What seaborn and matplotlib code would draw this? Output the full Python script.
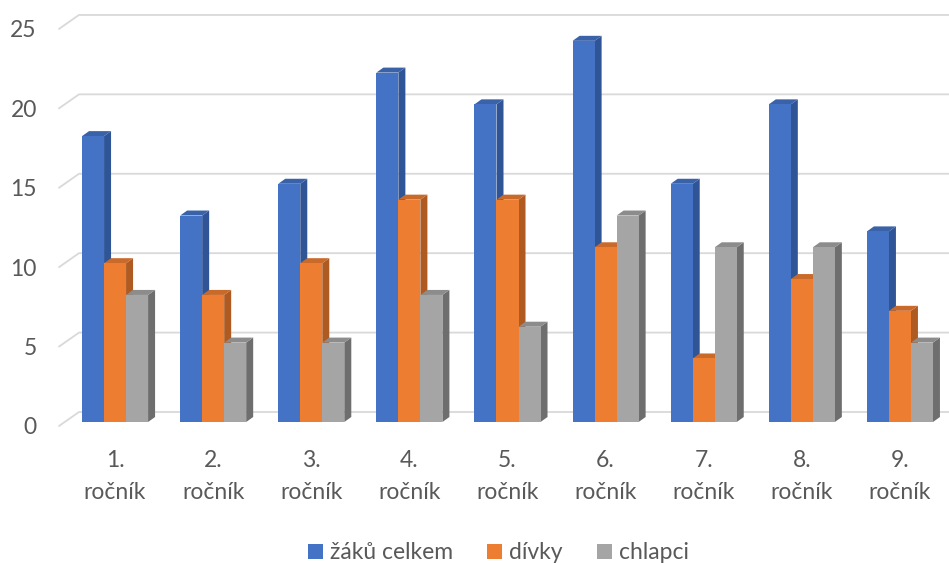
import numpy as np
import pandas as pd
import seaborn as sns
import matplotlib.pyplot as plt
from matplotlib.patches import Polygon
from matplotlib.transforms import ScaledTranslation, offset_copy

rocniky = ['1.\nročník', '2.\nročník', '3.\nročník', '4.\nročník', '5.\nročník',
           '6.\nročník', '7.\nročník', '8.\nročník', '9.\nročník']
zaku_celkem = [18, 13, 15, 22, 20, 24, 15, 20, 12]
divky = [10, 8, 10, 14, 14, 11, 4, 9, 7]
chlapci = [8, 5, 5, 8, 6, 13, 11, 11, 5]
series = ['žáků celkem', 'dívky', 'chlapci']
y_ticks = [0, 5, 10, 15, 20, 25]

colors = ['#4472C4', '#ED7D31', '#A5A5A5']
side_colors = ['#2F5597', '#AE5A21', '#6E6E6E']
top_colors = ['#3A62A8', '#C9692A', '#8C8C8C']

df = pd.DataFrame({
    'rocnik': rocniky * 3,
    'serie': [s for s in series for _ in rocniky],
    'pocet': zaku_celkem + divky + chlapci,
})

sns.set_style('white')
plt.rcParams['font.family'] = ['Lato', 'DejaVu Sans']
text_col = '#595959'
fs = 16.5

fig = plt.figure(figsize=(9.49, 5.63), dpi=100)
W, H = 949, 563
ax = fig.add_axes([66 / W, 141 / H, 883 / W, 405 / H])

sns.barplot(data=df, x='rocnik', y='pocet', hue='serie', palette=colors,
            width=0.673, ax=ax, saturation=1, linewidth=0, legend=True)
ax.set_xlim(-0.5, 8.5)
ax.set_ylim(0, 25.5)
for s in ax.spines.values():
    s.set_visible(False)
ax.set_xlabel('')
ax.set_ylabel('')

# gridlines: short slanted front piece + back wall line
for v in y_ticks:
    tr_front = offset_copy(ax.transData, fig=fig, x=-7, y=-4, units='dots')
    tr_back = offset_copy(ax.transData, fig=fig, x=13, y=10, units='dots')
    p0 = tr_front.transform((-0.5, v))
    p1 = tr_back.transform((-0.5, v))
    p2 = tr_back.transform((8.5, v))
    ax.plot([p0[0], p1[0], p2[0]], [p0[1], p1[1], p2[1]], transform=None,
            color='#D9D9D9', lw=1.3, zorder=0, clip_on=False)

# 3D faces of the bars
dx, dy = 7, 5
bars = [p for p in ax.patches if p.get_height() > 0]
n = len(rocniky)
for i, p in enumerate(bars):
    k = i // n
    x0, y0 = ax.transData.transform((p.get_x(), 0))
    x1, y1 = ax.transData.transform((p.get_x() + p.get_width(), p.get_height()))
    p.set_zorder(3 + 2 * k)
    side = Polygon([(x1, y0), (x1, y1), (x1 + dx, y1 + dy), (x1 + dx, y0 + dy)],
                   closed=True, transform=None, facecolor=side_colors[k],
                   edgecolor='none', zorder=2 + 2 * k, clip_on=False)
    top = Polygon([(x0, y1), (x1, y1), (x1 + dx, y1 + dy), (x0 + dx, y1 + dy)],
                  closed=True, transform=None, facecolor=top_colors[k],
                  edgecolor='none', zorder=2 + 2 * k, clip_on=False)
    ax.add_artist(side)
    ax.add_artist(top)

ax.set_yticks(y_ticks)
ax.set_yticklabels([str(v) for v in y_ticks])
ax.tick_params(axis='y', length=0, pad=21, labelsize=fs, labelcolor=text_col)
ax.tick_params(axis='x', length=0, pad=20, labelsize=fs, labelcolor=text_col)
for lab in ax.get_yticklabels():
    lab.set_transform(lab.get_transform() + ScaledTranslation(0, -4 / 100, fig.dpi_scale_trans))
for lab in ax.get_xticklabels():
    lab.set_linespacing(1.65)
    lab.set_multialignment('center')

handles, labels = ax.get_legend_handles_labels()
ax.get_legend().remove()
fig.legend(handles, labels, loc='lower center', bbox_to_anchor=(0.525, -0.037), ncol=3,
           frameon=False, fontsize=fs, labelcolor=text_col, handlelength=0.65,
           handleheight=0.65, handletextpad=0.3, columnspacing=1.5)

fig.savefig('out.png', dpi=100)
